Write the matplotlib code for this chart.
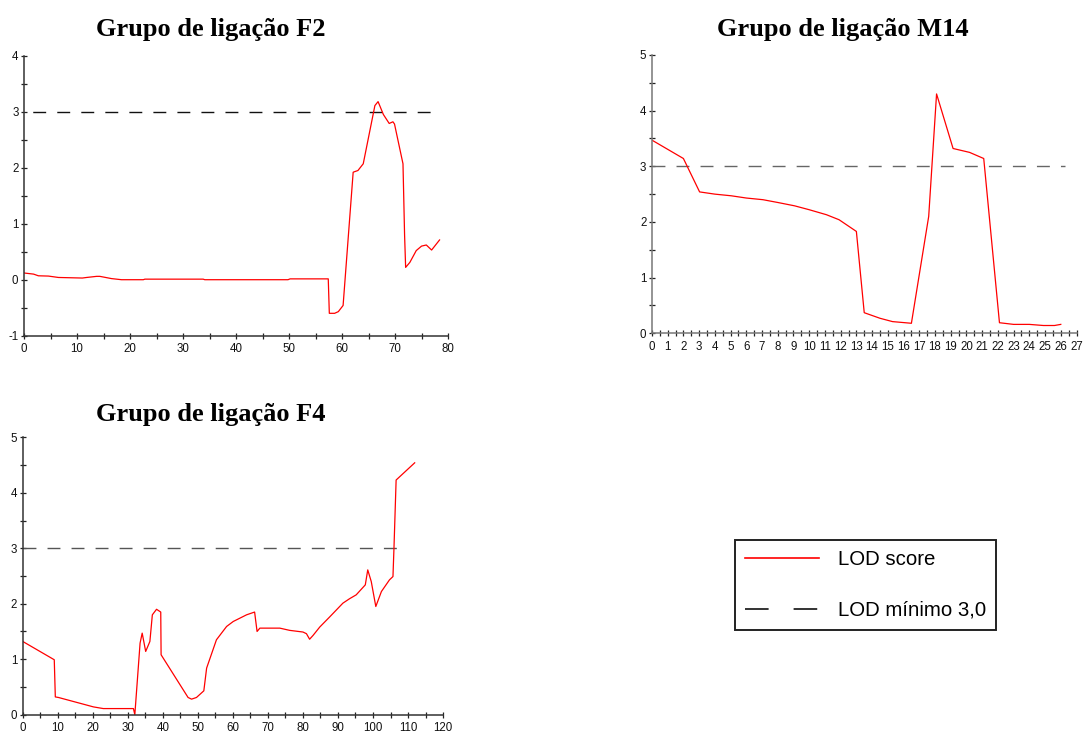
import matplotlib.pyplot as plt
from matplotlib.lines import Line2D
from matplotlib.ticker import MultipleLocator

plt.rcParams["lines.scale_dashes"] = False
plt.rcParams["axes.unicode_minus"] = False

# LOD profiles along each linkage group (position in cM, LOD score)
f2_pos = [0, 1.8, 2.7, 4.6, 6.5, 11.0, 11.8, 13.7, 14.3, 16.5, 18.4, 22.5, 22.8,
          33.8, 34.1, 49.8, 50.2, 57.4, 57.6, 58.6, 59.3, 60.2, 62.1, 63.0, 64.0,
          66.2, 66.8, 67.8, 68.9, 69.6, 69.9, 71.5, 71.8, 72.0, 72.8, 74.0, 75.0,
          75.9, 76.9, 78.4]
f2_lod = [0.12, 0.10, 0.07, 0.065, 0.04, 0.03, 0.04, 0.06, 0.06, 0.02, 0.0, 0.0, 0.01,
          0.01, 0.0, 0.0, 0.015, 0.015, -0.60, -0.60, -0.57, -0.46, 1.92, 1.95, 2.07,
          3.11, 3.18, 2.95, 2.79, 2.82, 2.78, 2.07, 0.80, 0.22, 0.31, 0.52, 0.60,
          0.62, 0.53, 0.71]

m14_pos = [0, 2.0, 3.03, 4.0, 5.05, 6.0, 7.06, 8.0, 9.07, 10.0, 11.1, 11.9, 13.0,
           13.5, 14.5, 15.3, 16.5, 17.6, 18.1, 19.15, 20.2, 21.1, 22.1, 23.0, 24.0,
           24.9, 25.6, 26.0]
m14_lod = [3.47, 3.14, 2.54, 2.50, 2.47, 2.43, 2.40, 2.35, 2.29, 2.22, 2.13, 2.04, 1.83,
           0.37, 0.27, 0.21, 0.18, 2.10, 4.30, 3.32, 3.25, 3.14, 0.19, 0.16, 0.16,
           0.14, 0.14, 0.16]

f4_pos = [0, 9.0, 9.3, 10.2, 20.2, 23.0, 31.6, 32.0, 33.5, 34.1, 35.1, 36.3, 37.0,
          38.2, 39.4, 39.5, 43.4, 47.2, 48.2, 49.6, 51.7, 52.5, 55.3, 58.2, 60.1,
          63.9, 66.2, 66.9, 67.7, 73.4, 76.2, 80.0, 81.0, 81.9, 82.9, 84.8, 87.6,
          91.4, 93.3, 95.2, 97.8, 98.5, 99.5, 100.8, 102.4, 104.7, 105.7, 106.0,
          106.6, 111.9]
f4_lod = [1.32, 0.99, 0.32, 0.31, 0.14, 0.11, 0.11, 0.0, 1.29, 1.47, 1.14, 1.32, 1.80,
          1.90, 1.85, 1.08, 0.69, 0.31, 0.28, 0.31, 0.43, 0.84, 1.35, 1.59, 1.68,
          1.80, 1.85, 1.50, 1.56, 1.56, 1.52, 1.49, 1.46, 1.36, 1.43, 1.58, 1.76,
          2.01, 2.09, 2.16, 2.34, 2.61, 2.40, 1.95, 2.22, 2.43, 2.49, 3.03,
          4.23, 4.54]

lod_min = 3.0

titles = ["Grupo de ligação F2", "Grupo de ligação M14", "Grupo de ligação F4"]
legend_labels = ["LOD score", "LOD mínimo 3,0"]

fig = plt.figure(figsize=(10.83, 7.33), dpi=100)


def lod_panel(rect, pos, lod, xlim, ylim, xmajor, xminor, thresh_end,
              axis_color, dash_color, dash_offset):
    ax = fig.add_axes(rect)
    ax.plot([0, thresh_end], [lod_min, lod_min], color=dash_color, lw=1.0,
            linestyle=(dash_offset, (9.3, 8)))
    ax.plot(pos, lod, color="#ff0000", lw=0.9)
    ax.set_xlim(*xlim)
    ax.set_ylim(*ylim)
    ax.xaxis.set_major_locator(MultipleLocator(xmajor))
    ax.xaxis.set_minor_locator(MultipleLocator(xminor))
    ax.yaxis.set_major_locator(MultipleLocator(1))
    ax.yaxis.set_minor_locator(MultipleLocator(0.5))
    for side in ("top", "right"):
        ax.spines[side].set_visible(False)
    for side in ("left", "bottom"):
        ax.spines[side].set_color(axis_color)
        ax.spines[side].set_linewidth(1.1)
    ax.tick_params(which="both", direction="inout", length=5, width=0.9,
                   color="#222222", labelsize=8.3, labelcolor="#111111",
                   labelfontfamily="Liberation Sans")
    ax.tick_params(axis="y", which="both", pad=1.5)
    ax.tick_params(axis="x", which="both", pad=3.0)
    ax.patch.set_alpha(0)
    return ax


lod_panel([0.0222, 0.542, 0.3915, 0.382], f2_pos, f2_lod, (0, 80), (-1, 4), 10, 5,
          77.5, "#333333", "#111111", 11)
lod_panel([0.6020, 0.5453, 0.3920, 0.3797], m14_pos, m14_lod, (0, 27), (0, 5), 1, 0.5,
          26.3, "#777777", "#666666", 0)
lod_panel([0.0210, 0.0250, 0.3881, 0.3784], f4_pos, f4_lod, (0, 120), (0, 5), 10, 5,
          109, "#333333", "#555555", 0)

title_kw = dict(ha="center", va="baseline", fontsize=19, fontweight="bold",
                family="Liberation Serif")
fig.text(211 / 1083, 1 - 36 / 733, titles[0], **title_kw)
fig.text(842.5 / 1083, 1 - 36 / 733, titles[1], **title_kw)
fig.text(211 / 1083, 1 - 421 / 733, titles[2], **title_kw)

handles = [
    Line2D([], [], color="#ff0000", lw=1.2),
    Line2D([], [], color="#111111", lw=1.2, linestyle=(0, (17, 18))),
]
leg = fig.legend(handles, legend_labels, loc="upper left",
                 bbox_to_anchor=(735 / 1083, 1 - 540 / 733),
                 prop={"family": "Liberation Sans", "size": 14.7},
                 handlelength=3.6, handletextpad=0.95, labelspacing=1.55,
                 borderpad=0.5, borderaxespad=0, fancybox=False, framealpha=1)
leg.get_frame().set_edgecolor("#222222")
leg.get_frame().set_linewidth(1.4)

fig.savefig("out.png", dpi=100)
